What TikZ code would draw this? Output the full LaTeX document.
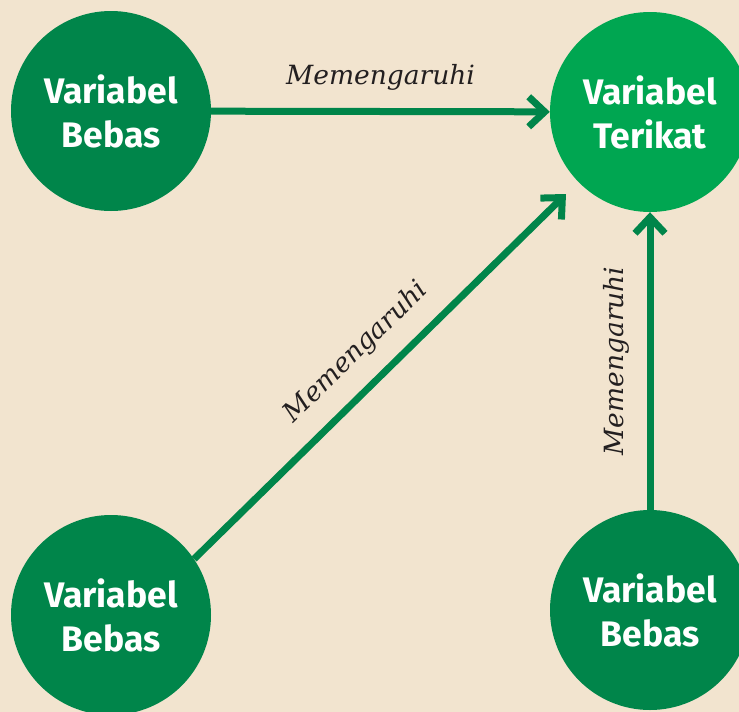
\documentclass[tikz,border=0pt]{standalone}
\usepackage{fontspec}
\setsansfont{Fira Sans}
\newfontfamily\labelfont{DejaVu Serif}
\usepackage{tikz}
\usetikzlibrary{arrows.meta}
\definecolor{bgcream}{RGB}{242,228,207}
\definecolor{darkgreen}{RGB}{0,133,74}
\definecolor{lightgreen}{RGB}{0,166,81}
\definecolor{inkblack}{RGB}{35,31,32}

\begin{document}
\begin{tikzpicture}[x=1pt, y=-1pt,
    varnode/.style={circle, fill=darkgreen, minimum size=200pt, inner sep=0pt,
      align=center, text=white, font=\sffamily\bfseries\fontsize{35.5}{44}\selectfont},
    infl/.style={draw=darkgreen, line width=7pt, -{Straight Barb[length=16pt, width=30pt]}},
    lbl/.style={text=inkblack, font=\labelfont\itshape\fontsize{26.5}{30}\selectfont}]
  % background
  \fill[bgcream] (0,0) rectangle (739,712);
  \useasboundingbox (0,0) rectangle (739,712);
  \clip (0,0) rectangle (739,712);

  % variables
  \node[varnode] (bebasA) at (111,111) {Variabel\\Bebas};
  \node[varnode, fill=lightgreen] (terikat) at (650,112) {Variabel\\Terikat};
  \node[varnode] (bebasB) at (111,615) {Variabel\\Bebas};
  \node[varnode] (bebasC) at (650,610) {Variabel\\Bebas};
  \coordinate (tipB) at (566,194);

  % influences
  \draw[infl] (bebasA) -- node[lbl, sloped, above=14pt] {Memengaruhi} (terikat);
  \draw[infl] (bebasB.34) -- node[lbl, sloped, above=14pt] {Memengaruhi} (tipB);
  \draw[infl] (bebasC) -- node[lbl, sloped, above=14pt] {Memengaruhi} (terikat);
\end{tikzpicture}
\end{document}
